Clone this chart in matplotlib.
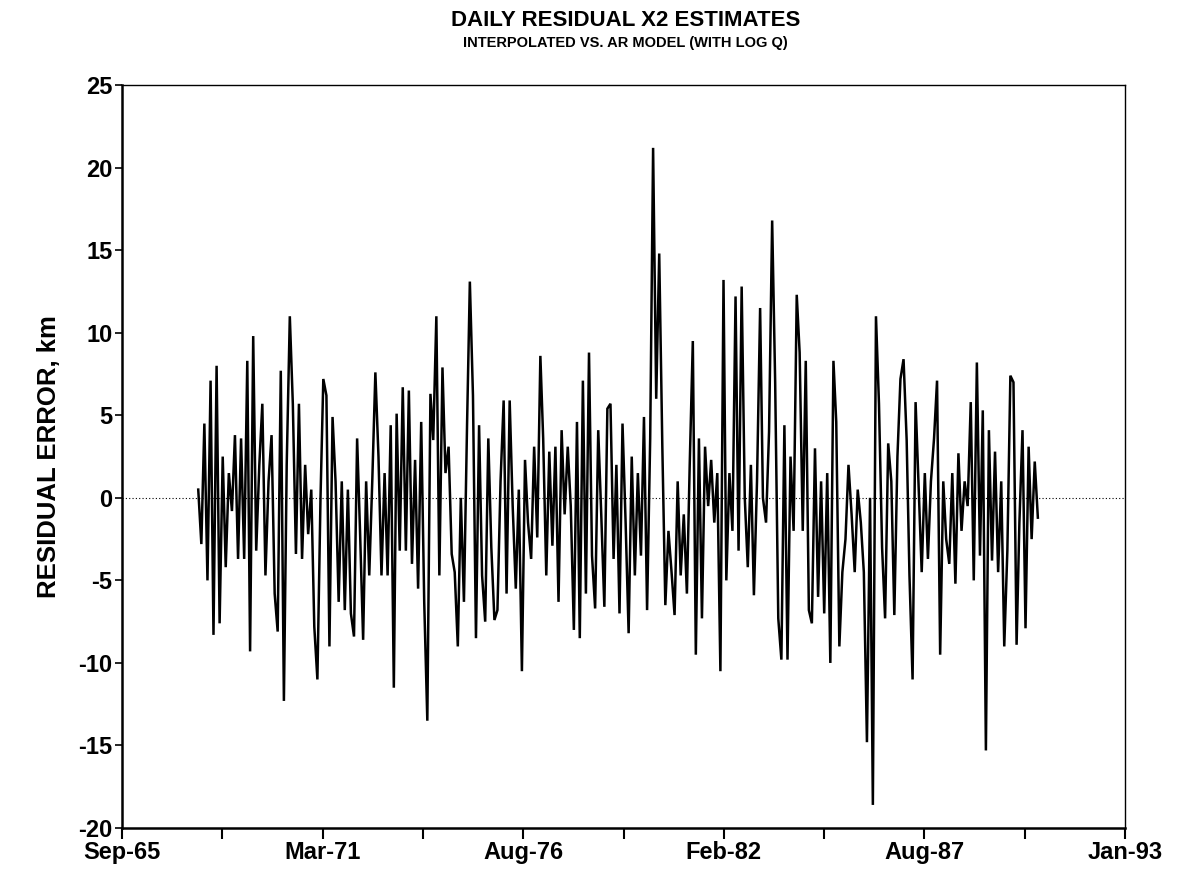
import matplotlib
matplotlib.use('Agg')
import matplotlib.pyplot as plt
import matplotlib.dates as mdates
import pandas as pd

plt.rcParams['font.family'] = ['Liberation Sans', 'DejaVu Sans']
plt.rcParams['font.weight'] = 'bold'
plt.rcParams['axes.unicode_minus'] = False

# residual X2 error (km), read off the chart roughly once per month, Oct-67 .. Sep-90
r1967 = [0.5, -2.8, 4.5]
r1968 = [-5.0, 7.1, -8.3, 8.0, -7.6, 2.5, -4.2, 1.5, -0.8, 3.8, -3.7, 3.6]
r1969 = [-3.7, 8.3, -9.3, 9.8, -3.2, 2.0, 5.7, -4.7, 1.0, 3.8, -5.8, -8.1]
r1970 = [7.7, -12.3, 2.0, 11.0, 5.7, -3.4, 5.7, -3.7, 2.0, -2.2, 0.5, -7.8]
r1971 = [-11.0, 0.0, 7.2, 6.2, -9.0, 4.9, 1.0, -6.3, 1.0, -6.8, 0.5, -7.0]
r1972 = [-8.4, 3.6, -2.0, -8.6, 1.0, -4.7, 1.0, 7.6, 2.5, -4.7, 1.5, -4.7]
r1973 = [4.4, -11.5, 5.1, -3.2, 6.7, -3.2, 6.5, -4.0, 2.3, -5.5, 4.6, -6.3]
r1974 = [-13.5, 6.3, 3.5, 11.0, -4.7, 7.9, 1.5, 3.1, -3.4, -4.5, -9.0, 0.0]
r1975 = [-6.3, 4.4, 13.1, 6.2, -8.5, 4.4, -4.7, -7.5, 3.6, -3.0, -7.4, -6.8]
r1976 = [1.0, 5.9, -5.8, 5.9, -0.5, -5.5, 0.5, -10.5, 2.3, -1.5, -3.7, 3.1]
r1977 = [-2.4, 8.6, 3.6, -4.7, 2.8, -2.9, 3.1, -6.3, 4.1, -1.0, 3.1, -0.5]
r1978 = [-8.0, 4.6, -8.5, 7.1, -5.8, 8.8, -3.5, -6.7, 4.1, -1.0, -6.6, 5.4]
r1979 = [5.7, -3.7, 2.0, -7.0, 4.5, -1.5, -8.2, 2.5, -4.7, 1.5, -3.5, 4.9]
r1980 = [-6.8, 3.6, 21.2, 6.0, 14.8, 3.1, -6.5, -2.0, -4.5, -7.1, 1.0, -4.7]
r1981 = [-1.0, -5.8, 2.0, 9.5, -9.5, 3.6, -7.3, 3.1, -0.5, 2.3, -1.5, 1.5]
r1982 = [-10.5, 13.2, -5.0, 1.5, -2.0, 12.2, -3.2, 12.8, 0.0, -4.2, 2.0, -5.9]
r1983 = [1.0, 11.5, 0.0, -1.5, 4.0, 16.8, 7.0, -7.3, -9.8, 4.4, -9.8, 2.5]
r1984 = [-2.0, 12.3, 8.8, -2.0, 8.3, -6.8, -7.6, 3.0, -6.0, 1.0, -7.0, 1.5]
r1985 = [-10.0, 8.3, 4.6, -9.0, -4.5, -2.5, 2.0, -1.0, -4.5, 0.5, -1.5, -4.5]
r1986 = [-14.8, 0.0, -18.6, 11.0, 5.7, -3.0, -7.3, 3.3, 1.0, -7.1, 2.5, 7.2]
r1987 = [8.4, 3.5, -4.7, -11.0, 5.8, 0.5, -4.5, 1.5, -3.7, 1.0, 3.6, 7.1]
r1988 = [-9.5, 1.0, -2.5, -4.0, 1.5, -5.2, 2.7, -2.0, 1.0, -0.5, 5.8, -5.0]
r1989 = [8.2, -3.5, 5.3, -15.3, 4.1, -3.8, 2.8, -4.5, 1.0, -9.0, -3.2, 7.4]
r1990 = [7.0, -8.9, -1.5, 4.1, -7.9, 3.1, -2.5, 2.2, -1.2]

resid = (r1967 + r1968 + r1969 + r1970 + r1971 + r1972 + r1973 + r1974 + r1975
         + r1976 + r1977 + r1978 + r1979 + r1980 + r1981 + r1982 + r1983 + r1984
         + r1985 + r1986 + r1987 + r1988 + r1989 + r1990)
dates = pd.date_range('1967-10-01', periods=len(resid), freq='MS') + pd.Timedelta(days=14)

# axis runs on spreadsheet day serials 24000..34000, a label every 2000 days
base = pd.Timestamp('1899-12-30')
major_serials = [24000, 26000, 28000, 30000, 32000, 34000]
minor_serials = [25000, 27000, 29000, 31000, 33000]
major_dates = [base + pd.Timedelta(days=s) for s in major_serials]
minor_dates = [base + pd.Timedelta(days=s) for s in minor_serials]

fig = plt.figure(figsize=(11.8, 8.73), dpi=100)
ax = fig.add_axes([0.1034, 0.0515, 0.85, 0.851])

ax.axhline(0, color='black', lw=0.8, ls=(0, (1, 2)))
ax.plot(dates, resid, color='black', lw=1.8, solid_joinstyle='miter')

ax.set_xlim(major_dates[0], major_dates[-1])
ax.set_ylim(-20, 25)
ax.set_yticks(range(-20, 26, 5))
ax.set_xticks(major_dates)
ax.set_xticks(minor_dates, minor=True)
ax.xaxis.set_major_formatter(mdates.DateFormatter('%b-%y'))

ax.tick_params(axis='x', which='both', direction='out', length=8, width=1.5,
               labelsize=17, pad=1)
ax.tick_params(axis='y', direction='out', length=5, width=1.2, labelsize=17, pad=2)
for lab in ax.get_xticklabels() + ax.get_yticklabels():
    lab.set_fontweight('bold')

for side in ['left', 'bottom']:
    ax.spines[side].set_linewidth(1.8)
for side in ['top', 'right']:
    ax.spines[side].set_linewidth(1.0)

ax.set_ylabel('RESIDUAL ERROR, km', fontsize=18.5, fontweight='bold', labelpad=12)

fig.text(0.53, 0.976, 'DAILY RESIDUAL X2 ESTIMATES', ha='center', va='center',
         fontsize=16, fontweight='bold')
fig.text(0.53, 0.951, 'INTERPOLATED VS. AR MODEL (WITH LOG Q)', ha='center',
         va='center', fontsize=10.5, fontweight='bold')

fig.savefig('out.png', dpi=100)
